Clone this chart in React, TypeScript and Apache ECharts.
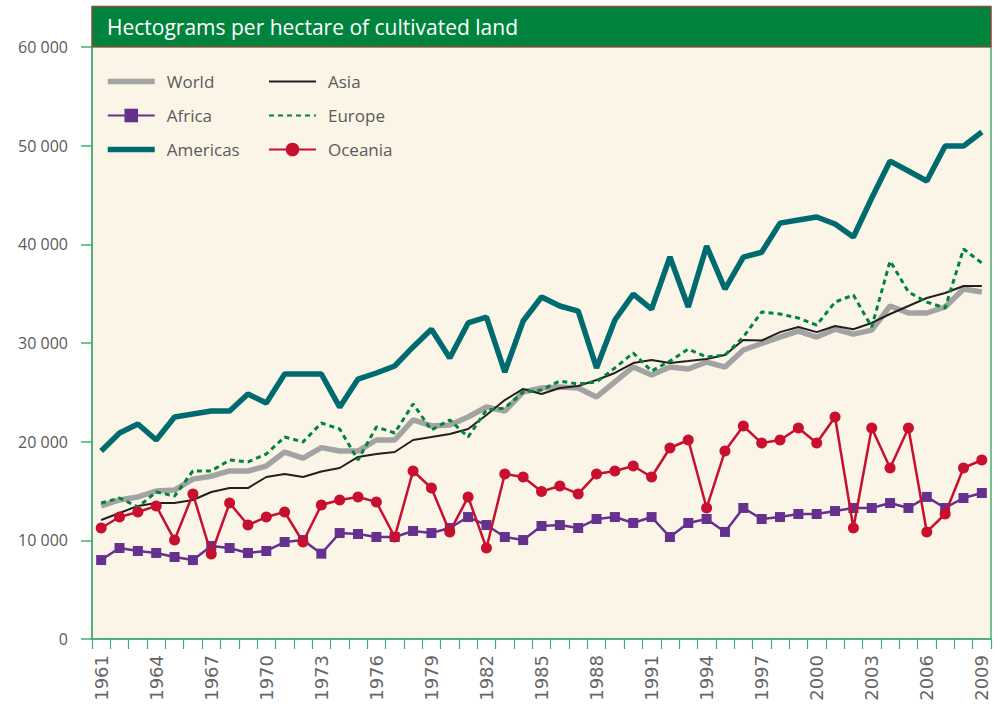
import React, { useEffect, useRef } from "react";
import * as echarts from "echarts";

const years: string[] = [];
for (let y = 1961; y <= 2009; y++) years.push(String(y));

const world = [13480, 14090, 14400, 15000, 15100, 16200, 16500, 17030, 17030, 17530, 18950, 18340, 19400, 19050, 19050, 20170, 20170, 22200, 21590, 21690, 22500, 23510, 23100, 25030, 25440, 25540, 25440, 24530, 26050, 27570, 26760, 27570, 27360, 28070, 27570, 29290, 29950, 30600, 31200, 30600, 31400, 30900, 31300, 33750, 33040, 33040, 33650, 35470, 35170];
const africa = [8000, 9220, 8920, 8720, 8310, 8000, 9430, 9220, 8720, 8920, 9830, 10030, 8650, 10740, 10640, 10340, 10340, 10950, 10740, 11250, 12360, 11550, 10340, 10030, 11450, 11550, 11250, 12160, 12360, 11760, 12360, 10340, 11760, 12160, 10850, 13280, 12160, 12360, 12670, 12670, 12970, 13280, 13280, 13780, 13280, 14400, 13280, 14290, 14800];
const americas = [19050, 20880, 21790, 20170, 22500, 22800, 23100, 23100, 24830, 23920, 26860, 26860, 26860, 23500, 26350, 26960, 27670, 29600, 31400, 28480, 32030, 32630, 27060, 32230, 34660, 33750, 33240, 27470, 32330, 34960, 33440, 38720, 33650, 39830, 35470, 38700, 39200, 42150, 42460, 42770, 42060, 40740, 44700, 48440, 47430, 46420, 49960, 49960, 51380];
const asia = [12060, 12770, 13480, 13780, 13780, 14090, 14900, 15300, 15300, 16420, 16720, 16420, 16980, 17330, 18450, 18750, 18950, 20170, 20470, 20780, 21280, 22700, 24220, 25340, 24830, 25440, 25640, 26250, 26960, 27970, 28280, 27970, 28170, 28380, 28780, 30300, 30250, 31100, 31620, 31100, 31720, 31400, 32030, 32940, 33750, 34560, 35070, 35780, 35780];
const europe = [13780, 14290, 13380, 14900, 14490, 17030, 17030, 18140, 17940, 18750, 20470, 19970, 21890, 21280, 18140, 21490, 20880, 23820, 21180, 22200, 20470, 23210, 23410, 25030, 25240, 26150, 25840, 26050, 27470, 28990, 27160, 28170, 29390, 28580, 28780, 30600, 33140, 32940, 32530, 31820, 34150, 34860, 31620, 38310, 35170, 34150, 33550, 39530, 38110];
const oceania = [11250, 12360, 12870, 13480, 10030, 14700, 8610, 13780, 11550, 12360, 12870, 9830, 13580, 14090, 14400, 13880, 10340, 17030, 15300, 10850, 14400, 9220, 16720, 16420, 14950, 15500, 14700, 16720, 17030, 17530, 16420, 19360, 20170, 13280, 19050, 21590, 19860, 20170, 21380, 19860, 22500, 11250, 21380, 17330, 21380, 10850, 12670, 17330, 18140];

const yTicks = [0, 10000, 20000, 30000, 40000, 50000, 60000];
const titleText = "Hectograms per hectare of cultivated land";
const legendCol1 = ["World", "Africa", "Americas"];
const legendCol2 = ["Asia", "Europe", "Oceania"];
const noSymbolSeries = ["World", "Americas", "Asia", "Europe"];
const thickSeries = ["World", "Americas"];

const C = {
  world: "#a3a3a3",
  africa: "#65318f",
  americas: "#006b6e",
  asia: "#231f20",
  europe: "#00843d",
  oceania: "#c8102e",
  axis: "#45ad72",
  text: "#5a5a5a",
  bg: "#fbf5e8",
  bar: "#00843d",
  barBorder: "#8c4a36",
};

const FONT = "'Open Sans', 'Noto Sans', sans-serif";

export default function App() {
  const ref = useRef<HTMLDivElement>(null);
  useEffect(() => {
    if (!ref.current) return;
    const chart = echarts.init(ref.current, undefined, { renderer: "svg" });
    const fmt = (v: number) => {
      const s = String(Math.round(v));
      return s.replace(/\B(?=(\d{3})+(?!\d))/g, " ");
    };
    const legendItem = (n: string) => {
      const item: any = { name: n };
      if (noSymbolSeries.includes(n)) item.itemStyle = { opacity: 0 };
      if (thickSeries.includes(n)) item.lineStyle = { width: 5.5 };
      return item;
    };
    const legendCommon = {
      orient: "vertical" as const,
      top: 68,
      itemWidth: 47,
      itemHeight: 17,
      itemGap: 17,
      textStyle: { color: C.text, fontSize: 17, fontFamily: FONT, padding: [0, 0, 0, 7] },
      selectedMode: false,
    };
    chart.setOption({
      animation: false,
      backgroundColor: "#ffffff",
      textStyle: { fontFamily: FONT },
      grid: {
        left: 92,
        right: 4,
        top: 47,
        bottom: 69,
        show: true,
        backgroundColor: C.bg,
        borderColor: C.axis,
        borderWidth: 1.5,
      },
      legend: [
        { ...legendCommon, left: 100, data: legendCol1.map(legendItem) },
        { ...legendCommon, left: 263, data: legendCol2.map(legendItem) },
      ],
      graphic: [
        {
          type: "rect",
          shape: { x: 92, y: 6.5, width: 899, height: 40 },
          style: { fill: C.bar, stroke: C.barBorder, lineWidth: 1.5 },
          z: 10,
        },
        {
          type: "text",
          x: 107,
          y: 27,
          style: {
            text: titleText,
            fill: "#ffffff",
            fontSize: 21,
            fontFamily: FONT,
            verticalAlign: "middle",
          },
          z: 11,
        },
      ],
      xAxis: {
        type: "category",
        data: years,
        boundaryGap: true,
        axisLine: { lineStyle: { color: C.axis, width: 1.5 } },
        axisTick: { show: true, interval: 0, length: 10, lineStyle: { color: C.axis, width: 1.2 } },
        axisLabel: {
          interval: 2,
          rotate: 90,
          color: "#666666",
          fontSize: 18,
          margin: 16,
          fontFamily: "'DejaVu Sans', sans-serif",
        },
      },
      yAxis: {
        type: "value",
        min: yTicks[0],
        max: yTicks[yTicks.length - 1],
        interval: 10000,
        splitLine: { show: false },
        axisLine: { show: true, lineStyle: { color: C.axis, width: 1.5 } },
        axisTick: { show: true, length: 11, lineStyle: { color: C.axis, width: 1.5 } },
        axisLabel: { color: C.text, fontSize: 16, margin: 24, formatter: fmt, fontFamily: FONT },
      },
      series: [
        {
          name: "World",
          type: "line",
          data: world,
          symbol: "none",
          lineStyle: { color: C.world, width: 5.5 },
          itemStyle: { color: C.world },
          z: 2,
        },
        {
          name: "Asia",
          type: "line",
          data: asia,
          symbol: "none",
          lineStyle: { color: C.asia, width: 2 },
          itemStyle: { color: C.asia },
          z: 3,
        },
        {
          name: "Europe",
          type: "line",
          data: europe,
          symbol: "none",
          lineStyle: { color: C.europe, width: 3, type: [5, 4] },
          itemStyle: { color: C.europe },
          z: 4,
        },
        {
          name: "Americas",
          type: "line",
          data: americas,
          symbol: "none",
          lineStyle: { color: C.americas, width: 5.5 },
          itemStyle: { color: C.americas },
          z: 5,
        },
        {
          name: "Africa",
          type: "line",
          data: africa,
          symbol: "rect",
          symbolSize: 10,
          lineStyle: { color: C.africa, width: 2.5 },
          itemStyle: { color: C.africa },
          z: 6,
        },
        {
          name: "Oceania",
          type: "line",
          data: oceania,
          symbol: "circle",
          symbolSize: 11,
          lineStyle: { color: C.oceania, width: 2.5 },
          itemStyle: { color: C.oceania },
          z: 7,
        },
      ],
    });
    return () => chart.dispose();
  }, []);
  return (
    <div
      ref={ref}
      style={{ position: "fixed", left: 0, top: 0, width: 995, height: 708 }}
    />
  );
}
